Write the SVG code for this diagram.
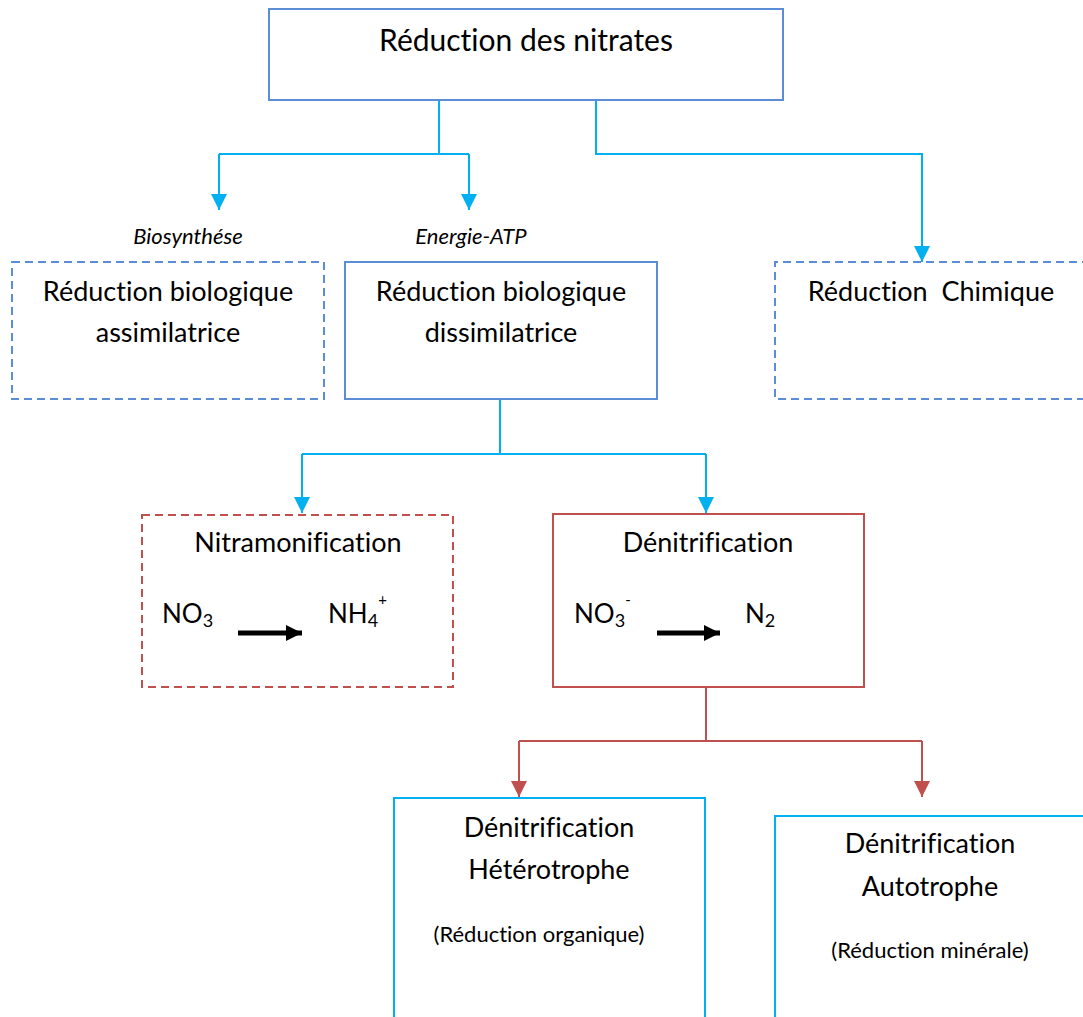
<svg xmlns="http://www.w3.org/2000/svg" width="1083" height="1017" viewBox="0 0 1083 1017">
<defs>
<marker id="ab" markerUnits="userSpaceOnUse" markerWidth="16" markerHeight="16" viewBox="0 0 16 16" refX="8" refY="16" orient="0">
<path d="M0,0 L16,0 L8,16 Z" fill="#00B0F0"/>
</marker>
<marker id="ar" markerUnits="userSpaceOnUse" markerWidth="16" markerHeight="16" viewBox="0 0 16 16" refX="8" refY="16" orient="0">
<path d="M0,0 L16,0 L8,16 Z" fill="#C0504D"/>
</marker>
<marker id="ak" markerUnits="userSpaceOnUse" markerWidth="16" markerHeight="16" viewBox="0 0 16 16" refX="16" refY="8" orient="auto">
<path d="M0,0 L16,8 L0,16 Z" fill="#000"/>
</marker>
</defs>
<style>
text{font-family:Lato,"Liberation Sans",sans-serif;fill:#000;font-variant-ligatures:none}
.t{font-size:27px;text-anchor:middle}
.lbl{font-size:22px;font-style:italic;text-anchor:middle}
.sm{font-size:22px;text-anchor:middle}
.chem{font-size:26px}
.blue{fill:#fff;stroke:#5B8ED6;stroke-width:2}
.dash{stroke-dasharray:8,5}
.red{fill:#fff;stroke:#C0504D;stroke-width:2}
.cyan{fill:#fff;stroke:#00B0F0;stroke-width:2}
.cb{fill:none;stroke:#00B0F0;stroke-width:2}
.cr{fill:none;stroke:#C0504D;stroke-width:2}
</style>
<rect width="1083" height="1017" fill="#fff"/>
<g id="connectors">
<polyline class="cb" points="439,100 439,154"/>
<polyline class="cb" points="219,154 469,154"/>
<polyline class="cb" points="219,154 219,210" marker-end="url(#ab)"/>
<polyline class="cb" points="469,154 469,210" marker-end="url(#ab)"/>
<polyline class="cb" points="596,100 596,154 922,154 922,262" marker-end="url(#ab)"/>
<polyline class="cb" points="500,399 500,454"/>
<polyline class="cb" points="302,454 706,454"/>
<polyline class="cb" points="302,454 302,513" marker-end="url(#ab)"/>
<polyline class="cb" points="706,454 706,513" marker-end="url(#ab)"/>
<polyline class="cr" points="706,687 706,741"/>
<polyline class="cr" points="519,741 922,741"/>
<polyline class="cr" points="519,741 519,797" marker-end="url(#ar)"/>
<polyline class="cr" points="922,741 922,797" marker-end="url(#ar)"/>
</g>
<g id="n-top">
<rect class="blue" x="269" y="9" width="514" height="91"/>
<text class="t" x="526" y="51" style="font-size:30px">Réduction des nitrates</text>
</g>
<g id="lbl-bio"><text class="lbl" x="188" y="244">Biosynthése</text></g>
<g id="lbl-atp"><text class="lbl" x="471" y="244">Energie-ATP</text></g>
<g id="n-assim">
<rect class="blue dash" x="12" y="262" width="312" height="137"/>
<text class="t" x="168" y="301">Réduction biologique</text>
<text class="t" x="168" y="342">assimilatrice</text>
</g>
<g id="n-dissim">
<rect class="blue" x="345" y="262" width="312" height="137"/>
<text class="t" x="501" y="301">Réduction biologique</text>
<text class="t" x="501" y="342">dissimilatrice</text>
</g>
<g id="n-chim">
<path class="blue dash" d="M1090,262 H775 V399 H1090" fill="none"/>
<text class="t" x="931" y="301" xml:space="preserve">Réduction  Chimique</text>
</g>
<g id="n-nitram">
<rect class="red dash" x="142" y="515" width="311" height="172"/>
<text class="t" x="298" y="552">Nitramonification</text>
<text class="chem" x="162" y="623">NO<tspan font-size="18" dy="4">3</tspan></text>
<line x1="238" y1="633" x2="302" y2="633" stroke="#000" stroke-width="5" marker-end="url(#ak)"/>
<text class="chem" x="328" y="623">NH<tspan font-size="18" dy="4">4</tspan><tspan font-size="15" dy="-22">+</tspan></text>
</g>
<g id="n-denit">
<rect class="red" x="553" y="514" width="311" height="173"/>
<text class="t" x="708" y="552">Dénitrification</text>
<text class="chem" x="574" y="623">NO<tspan font-size="18" dy="4">3</tspan><tspan font-size="15" dy="-22">-</tspan></text>
<line x1="657" y1="633" x2="720" y2="633" stroke="#000" stroke-width="5" marker-end="url(#ak)"/>
<text class="chem" x="745" y="623">N<tspan font-size="18" dy="4">2</tspan></text>
</g>
<g id="n-hetero">
<path class="cyan" d="M394,1020 V798 H705 V1020" fill="none"/>
<text class="t" x="549" y="837">Dénitrification</text>
<text class="t" x="549" y="879">Hétérotrophe</text>
<text class="sm" x="539" y="942">(Réduction organique)</text>
</g>
<g id="n-auto">
<path class="cyan" d="M775,1020 V816 H1090" fill="none"/>
<text class="t" x="930" y="853">Dénitrification</text>
<text class="t" x="930" y="896">Autotrophe</text>
<text class="sm" x="930" y="958">(Réduction minérale)</text>
</g>
</svg>
